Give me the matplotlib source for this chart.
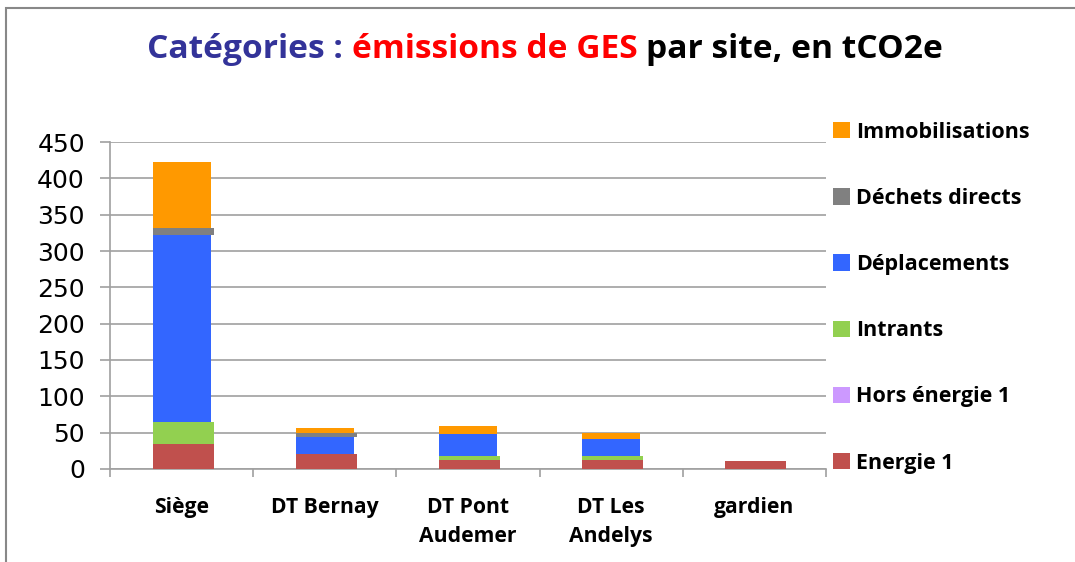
import numpy as np
import matplotlib
matplotlib.use("Agg")
import matplotlib.pyplot as plt
from matplotlib.patches import Rectangle
from matplotlib.offsetbox import TextArea, HPacker, AnchoredOffsetbox

# data (tCO2e)
sites = ["Siège", "DT Bernay", "DT Pont\nAudemer", "DT Les\nAndelys", "gardien"]
energie = [35, 20, 12, 12, 11]
hors_energie = [0, 0, 0, 0, 0]
intrants = [29, 0, 5.5, 5.5, 0]
deplacements = [258, 24, 30, 23.5, 0]
dechets = [10, 5, 0, 0, 0]
immobilisations = [91, 7, 11, 8, 0]

series = [
    ("Energie 1", energie, "#C0504D", 0.426),
    ("Hors énergie 1", hors_energie, "#CC99FF", 0.405),
    ("Intrants", intrants, "#92D050", 0.426),
    ("Déplacements", deplacements, "#3366FF", 0.405),
    ("Déchets directs", dechets, "#808080", 0.426),
    ("Immobilisations", immobilisations, "#FF9900", 0.405),
]

FONT = "Open Sans"

fig = plt.figure(figsize=(10.75, 5.62), dpi=100)
ax = fig.add_axes([0.1023, 0.1655, 0.666, 0.5818])

x = np.arange(len(sites)) + 0.5
left = x - 0.2025
bottom = np.zeros(len(sites))
handles = []
for name, vals, col, w in series:
    vals = np.array(vals, dtype=float)
    b = ax.bar(left, vals, width=w, bottom=bottom, align="edge", color=col,
               label=name, zorder=3)
    handles.append(b)
    bottom = bottom + vals

ax.set_xlim(0, len(sites))
ax.set_ylim(0, 450)
ax.set_yticks(np.arange(0, 451, 50))
ax.grid(axis="y", color="#A0A0A0", lw=1.2, zorder=0)
for s in ["top", "right"]:
    ax.spines[s].set_visible(False)
for s in ["left", "bottom"]:
    ax.spines[s].set_color("#A0A0A0")
    ax.spines[s].set_linewidth(1.2)

ax.tick_params(axis="y", length=7, color="#A0A0A0", width=1.2, labelsize=18, pad=11)
ax.set_xticks(x)
ax.set_xticklabels(sites, fontfamily=FONT, fontweight="bold", fontsize=15.2)
ax.tick_params(axis="x", length=0, pad=20)
for t in ax.get_xticklabels():
    t.set_linespacing(1.5)
    t.set_verticalalignment("top")
ax.set_xticks(np.arange(len(sites) + 1), minor=True)
ax.tick_params(axis="x", which="minor", length=6, color="#A0A0A0", width=1.2)

leg = fig.legend(handles[::-1], [s[0] for s in series][::-1],
                 loc="upper left", bbox_to_anchor=(0.757, 0.818),
                 frameon=False, handlelength=0.8, handleheight=0.8,
                 handletextpad=0.25, labelspacing=2.1,
                 prop={"family": FONT, "weight": "bold", "size": 15.5})

# multi-coloured title
parts = [("Catégories : ", "#333399"), ("émissions de GES ", "#FF0000"),
         ("par site, en tCO2e", "#000000")]
areas = [TextArea(t, textprops=dict(color=c, fontsize=24.1, fontfamily=FONT,
                                    fontweight="bold")) for t, c in parts]
box = HPacker(children=areas, align="baseline", pad=0, sep=0)
anch = AnchoredOffsetbox(loc="center", child=box, frameon=False,
                         bbox_to_anchor=(0.507, 0.912),
                         bbox_transform=fig.transFigure)
fig.add_artist(anch)

# chart frame
fig.add_artist(Rectangle((6 / 1075, -0.05), 1.2, 1 - 8 / 562 + 0.05,
                         transform=fig.transFigure, fill=False,
                         edgecolor="#888888", lw=1.5))

fig.savefig("out.png", dpi=100)
